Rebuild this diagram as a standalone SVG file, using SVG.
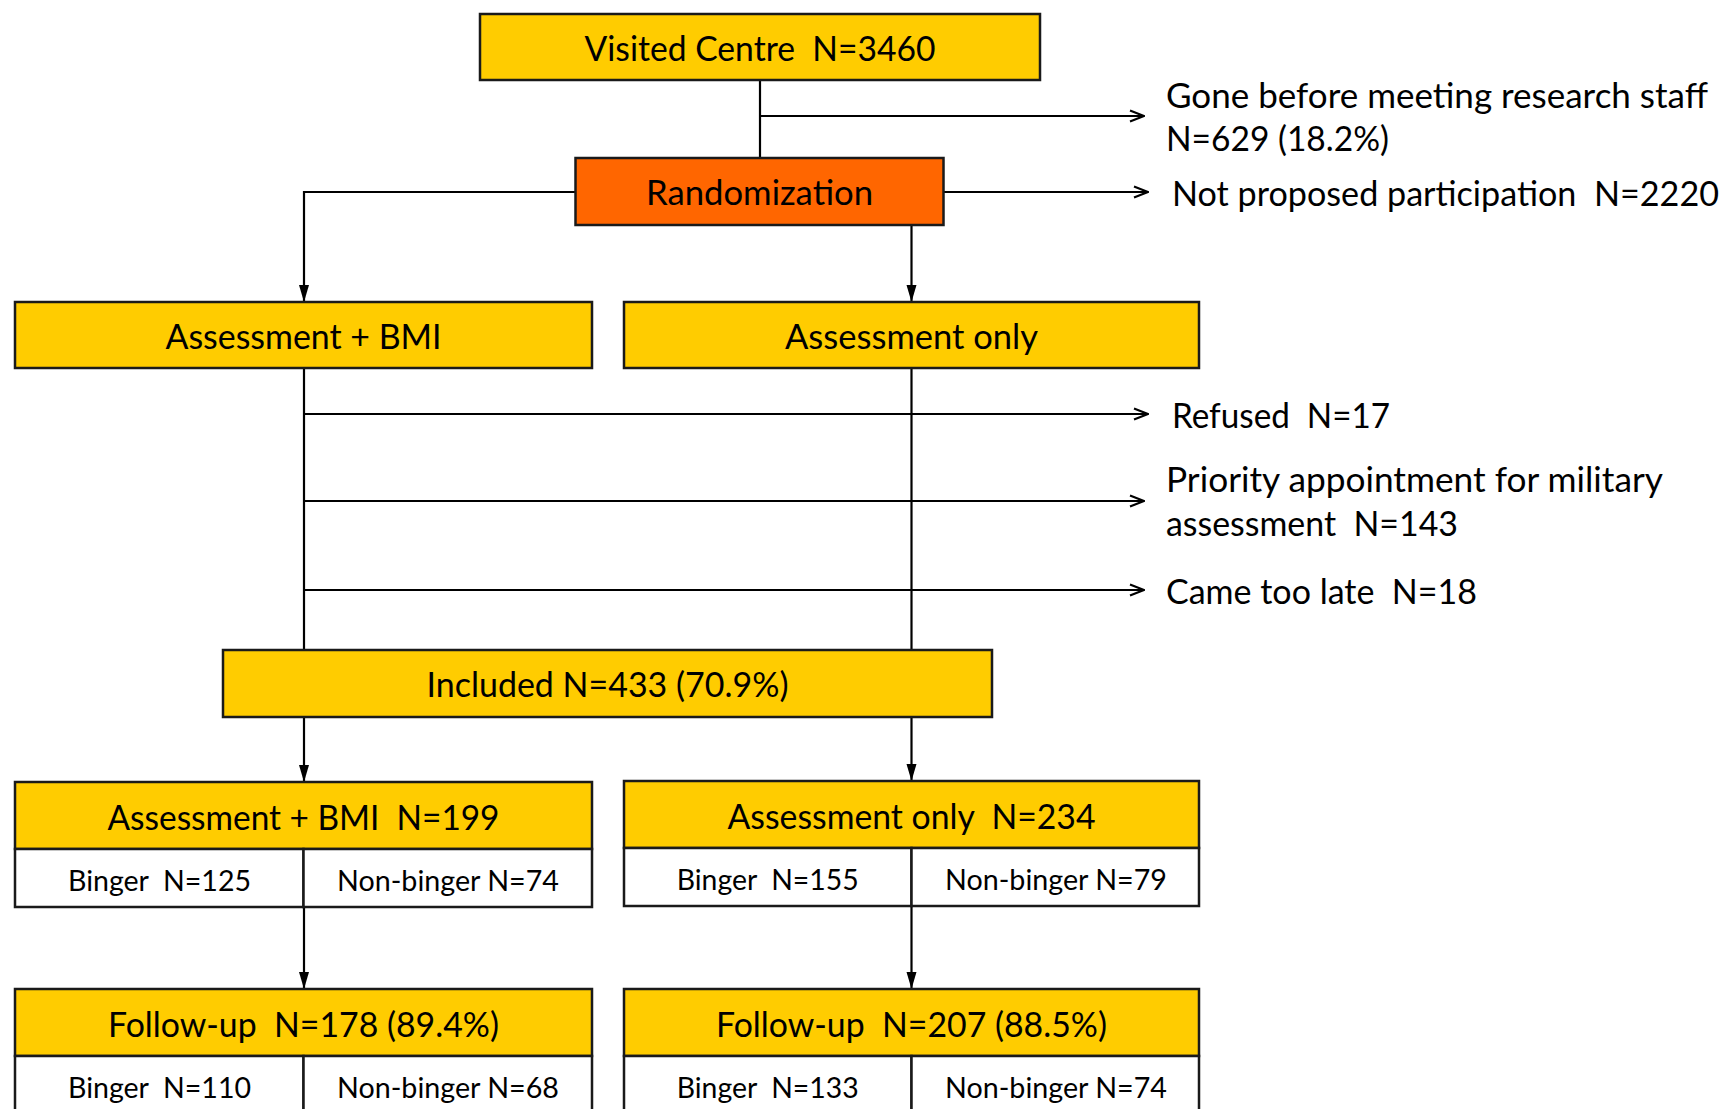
<svg xmlns="http://www.w3.org/2000/svg" width="1722" height="1109" viewBox="0 0 1722 1109" xml:space="preserve">
<style>
.box{stroke:#1a1a1a;stroke-width:2.5}
.y{fill:#FFCC00}
.o{fill:#FF6600}
.w{fill:#ffffff}
text{white-space:pre}
.t{font-family:Lato,"Liberation Sans",sans-serif;font-size:34px;fill:#000;text-anchor:middle}
.s{font-family:Lato,"Liberation Sans",sans-serif;font-size:29px;fill:#000;text-anchor:middle}
.l{font-family:Lato,"Liberation Sans",sans-serif;font-size:34px;fill:#000;text-anchor:start}
.c{fill:none;stroke:#000;stroke-width:2.2}
</style>
<defs>
<marker id="ah" markerUnits="userSpaceOnUse" viewBox="0 0 17 11" markerWidth="17" markerHeight="11" refX="17" refY="5.5" orient="auto">
<path d="M0,0.5 L17,5.5 L0,10.5 z" fill="#000"/>
</marker>
<marker id="oa" markerUnits="userSpaceOnUse" viewBox="0 0 16 14" markerWidth="16" markerHeight="14" refX="15" refY="7" orient="auto">
<path d="M1,1.5 L15,7 L1,12.5" fill="none" stroke="#000" stroke-width="2.2"/>
</marker>
</defs>
<rect width="1722" height="1109" fill="#ffffff"/>
<g id="connectors">
<path class="c" d="M760,80 V158"/>
<path class="c" d="M760,116 H1144" marker-end="url(#oa)"/>
<path class="c" d="M943,192 H1148" marker-end="url(#oa)"/>
<path class="c" d="M575,192 H304 V302" marker-end="url(#ah)"/>
<path class="c" d="M911.5,225 V302" marker-end="url(#ah)"/>
<path class="c" d="M304,368 V650"/>
<path class="c" d="M911.5,368 V650"/>
<path class="c" d="M304,414 H1148" marker-end="url(#oa)"/>
<path class="c" d="M304,501 H1144" marker-end="url(#oa)"/>
<path class="c" d="M304,590 H1144" marker-end="url(#oa)"/>
<path class="c" d="M304,717 V782" marker-end="url(#ah)"/>
<path class="c" d="M911.5,717 V781" marker-end="url(#ah)"/>
<path class="c" d="M304,907 V989" marker-end="url(#ah)"/>
<path class="c" d="M911.5,906 V989" marker-end="url(#ah)"/>
</g>
<g id="visited">
<rect class="box y" x="480" y="14" width="560" height="66"/>
<text class="t" x="760" y="61" textLength="351" lengthAdjust="spacingAndGlyphs">Visited Centre  N=3460</text>
</g>
<g id="gone">
<text class="l" x="1166" y="108" textLength="542" lengthAdjust="spacingAndGlyphs">Gone before meeting research staff</text>
<text class="l" x="1166" y="151" textLength="223" lengthAdjust="spacingAndGlyphs">N=629 (18.2%)</text>
</g>
<g id="randomization">
<rect class="box o" x="575.5" y="158" width="368" height="67"/>
<text class="t" x="759.5" y="205" textLength="227" lengthAdjust="spacingAndGlyphs">Randomization</text>
</g>
<g id="notproposed">
<text class="l" x="1172" y="206" textLength="547" lengthAdjust="spacingAndGlyphs">Not proposed participation  N=2220</text>
</g>
<g id="arm-bmi">
<rect class="box y" x="15" y="302" width="577" height="66"/>
<text class="t" x="303.5" y="349" textLength="276" lengthAdjust="spacingAndGlyphs">Assessment + BMI</text>
</g>
<g id="arm-only">
<rect class="box y" x="624" y="302" width="575" height="66"/>
<text class="t" x="911.5" y="349" textLength="253" lengthAdjust="spacingAndGlyphs">Assessment only</text>
</g>
<g id="refused">
<text class="l" x="1172" y="428" textLength="218" lengthAdjust="spacingAndGlyphs">Refused  N=17</text>
</g>
<g id="priority">
<text class="l" x="1166" y="492" textLength="497" lengthAdjust="spacingAndGlyphs">Priority appointment for military</text>
<text class="l" x="1166" y="536" textLength="292" lengthAdjust="spacingAndGlyphs">assessment  N=143</text>
</g>
<g id="late">
<text class="l" x="1166" y="604" textLength="311" lengthAdjust="spacingAndGlyphs">Came too late  N=18</text>
</g>
<g id="included">
<rect class="box y" x="223" y="650" width="769" height="67"/>
<text class="t" x="607.5" y="697" textLength="362" lengthAdjust="spacingAndGlyphs">Included N=433 (70.9%)</text>
</g>
<g id="bmi-199">
<rect class="box y" x="15" y="782" width="577" height="67"/>
<rect class="box w" x="15" y="849" width="288.5" height="58"/>
<rect class="box w" x="303.5" y="849" width="288.5" height="58"/>
<text class="t" x="303.5" y="830" textLength="392" lengthAdjust="spacingAndGlyphs">Assessment + BMI  N=199</text>
<text class="s" x="159.5" y="891" textLength="183" lengthAdjust="spacingAndGlyphs">Binger  N=125</text>
<text class="s" x="448" y="891" textLength="222" lengthAdjust="spacingAndGlyphs">Non-binger N=74</text>
</g>
<g id="only-234">
<rect class="box y" x="624" y="781" width="575" height="67"/>
<rect class="box w" x="624" y="848" width="287.5" height="58"/>
<rect class="box w" x="911.5" y="848" width="287.5" height="58"/>
<text class="t" x="911.5" y="829" textLength="368" lengthAdjust="spacingAndGlyphs">Assessment only  N=234</text>
<text class="s" x="767.7" y="890" textLength="182" lengthAdjust="spacingAndGlyphs">Binger  N=155</text>
<text class="s" x="1056" y="890" textLength="222" lengthAdjust="spacingAndGlyphs">Non-binger N=79</text>
</g>
<g id="fu-bmi">
<rect class="box y" x="15" y="989" width="577" height="67"/>
<rect class="box w" x="15" y="1056" width="288.5" height="70"/>
<rect class="box w" x="303.5" y="1056" width="288.5" height="70"/>
<text class="t" x="303.5" y="1037" textLength="391" lengthAdjust="spacingAndGlyphs">Follow-up  N=178 (89.4%)</text>
<text class="s" x="159.5" y="1098" textLength="183" lengthAdjust="spacingAndGlyphs">Binger  N=110</text>
<text class="s" x="448" y="1098" textLength="222" lengthAdjust="spacingAndGlyphs">Non-binger N=68</text>
</g>
<g id="fu-only">
<rect class="box y" x="624" y="989" width="575" height="67"/>
<rect class="box w" x="624" y="1056" width="287.5" height="70"/>
<rect class="box w" x="911.5" y="1056" width="287.5" height="70"/>
<text class="t" x="911.5" y="1037" textLength="391" lengthAdjust="spacingAndGlyphs">Follow-up  N=207 (88.5%)</text>
<text class="s" x="767.7" y="1098" textLength="182" lengthAdjust="spacingAndGlyphs">Binger  N=133</text>
<text class="s" x="1056" y="1098" textLength="222" lengthAdjust="spacingAndGlyphs">Non-binger N=74</text>
</g>
</svg>
